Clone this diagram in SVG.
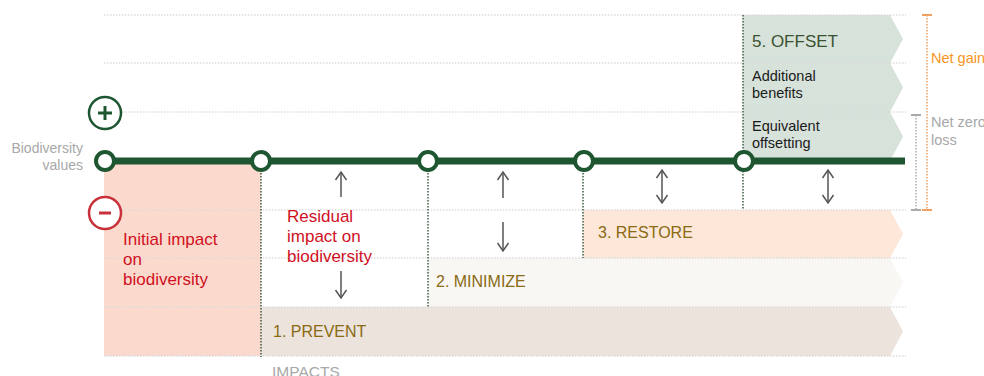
<svg xmlns="http://www.w3.org/2000/svg" width="984" height="376" viewBox="0 0 984 376">
<style>
text{font-family:"Liberation Sans",Arial,sans-serif}
.grid{stroke:#dcdcdc;stroke-width:1.5;stroke-dasharray:1.5 1.5;fill:none}
.vdot{stroke:#3d5e45;stroke-width:1.5;stroke-dasharray:1.5 1.5;fill:none}
.node{fill:#fff;stroke:#1f5632;stroke-width:4}
.arr{stroke:#555;stroke-width:1.5;fill:none;marker-end:url(#ah)}
.arr2{stroke:#555;stroke-width:1.5;fill:none;marker-end:url(#ah);marker-start:url(#ah)}
.red{fill:#d0101e;font-size:17px}
.step{fill:#8a6a12;font-size:16px}
.small{fill:#1a1a1a;font-size:14.5px}
.gray{fill:#a8a8a8}
</style>
<defs>
<marker id="ah" viewBox="-10 -7 12 14" markerWidth="12" markerHeight="14" refX="0" refY="0" orient="auto-start-reverse" markerUnits="userSpaceOnUse">
<path d="M-8,-5.5 L0,0 L-8,5.5" fill="none" stroke="#555" stroke-width="1.5"/>
</marker>
</defs>

<g id="bands">
<path id="prevent-band" d="M261,307 L890,307 L903,331.5 L890,356 L261,356 Z" fill="#ece3dd"/>
<path id="minimize-band" d="M428,258 L890,258 L903,282.5 L890,307 L428,307 Z" fill="#f8f7f4"/>
<path id="restore-band" d="M583,210 L890,210 L903,234 L890,258 L583,258 Z" fill="#fde7d8"/>
<path d="M743,15 L890,15 L903,39 L890,63 L743,63 Z" fill="#d7e2db"/>
<path d="M743,63 L890,63 L903,87.5 L890,112 L743,112 Z" fill="#d7e2db"/>
<path d="M743,112 L890,112 L903,136.5 L890,161 L743,161 Z" fill="#d7e2db"/>
<rect id="initial-impact" x="104" y="161" width="157" height="195" fill="#fcd9cd"/>
</g>

<g id="gridlines">
<line class="grid" x1="104" y1="15" x2="906" y2="15"/>
<line class="grid" x1="104" y1="63" x2="906" y2="63"/>
<line class="grid" x1="122" y1="112" x2="906" y2="112"/>
<line class="grid" x1="122" y1="210" x2="906" y2="210"/>
<line class="grid" x1="104" y1="258" x2="906" y2="258"/>
<line class="grid" x1="104" y1="307" x2="906" y2="307"/>
<line class="grid" x1="104" y1="356" x2="906" y2="356"/>
</g>

<g id="connectors">
<line class="vdot" x1="261" y1="161" x2="261" y2="357"/>
<line class="vdot" x1="428" y1="161" x2="428" y2="307"/>
<line class="vdot" x1="583" y1="161" x2="583" y2="258"/>
<line class="vdot" x1="743" y1="15" x2="743" y2="210"/>
<line x1="104" y1="161" x2="905" y2="161" stroke="#1f5632" stroke-width="7"/>
<line class="arr" x1="341" y1="197" x2="341" y2="172"/>
<line class="arr" x1="341" y1="271" x2="341" y2="298"/>
<line class="arr" x1="503" y1="198" x2="503" y2="172"/>
<line class="arr" x1="503" y1="222" x2="503" y2="251"/>
<line class="arr2" x1="662" y1="170" x2="662" y2="203"/>
<line class="arr2" x1="828" y1="170" x2="828" y2="203"/>
</g>

<g id="nodes">
<circle class="node" cx="105" cy="161" r="9"/>
<circle class="node" cx="261" cy="161" r="9"/>
<circle class="node" cx="428" cy="161" r="9"/>
<circle class="node" cx="584" cy="161" r="9"/>
<circle class="node" cx="744" cy="161" r="9"/>
</g>

<g id="plus">
<circle cx="105" cy="113" r="16" fill="#fff" stroke="#1f5632" stroke-width="2.5"/>
<path d="M98,113 H112 M105,106 V120" stroke="#1f5632" stroke-width="3"/>
</g>
<g id="minus">
<circle cx="105" cy="213" r="16" fill="#fff" stroke="#c8313a" stroke-width="2.5"/>
<path d="M99,213 H111" stroke="#c8313a" stroke-width="3"/>
</g>

<g id="axis-label">
<text class="gray" x="83" y="153" font-size="14" text-anchor="end">Biodiversity</text>
<text class="gray" x="83" y="170" font-size="14" text-anchor="end">values</text>
<text class="gray" x="272" y="377" font-size="15.5">IMPACTS</text>
</g>

<g id="initial-label">
<text class="red" x="123" y="245">Initial impact</text>
<text class="red" x="123" y="265">on</text>
<text class="red" x="123" y="285">biodiversity</text>
</g>
<g id="residual-label">
<text class="red" x="287" y="222">Residual</text>
<text class="red" x="287" y="242">impact on</text>
<text class="red" x="287" y="262">biodiversity</text>
</g>

<g id="prevent"><text class="step" x="273" y="337">1. PREVENT</text></g>
<g id="minimize"><text class="step" x="436" y="287">2. MINIMIZE</text></g>
<g id="restore"><text class="step" x="598" y="238">3. RESTORE</text></g>
<g id="offset">
<text x="752" y="47" font-size="17" fill="#3b5230">5. OFFSET</text>
<text class="small" x="752" y="81">Additional</text>
<text class="small" x="752" y="98">benefits</text>
<text class="small" x="752" y="131">Equivalent</text>
<text class="small" x="752" y="148">offsetting</text>
</g>

<g id="net-gain">
<line x1="927" y1="15" x2="927" y2="210" stroke="#f0a060" stroke-width="1.5" stroke-dasharray="1.5 1.5"/>
<path d="M922,15 H932 M922,210 H932" stroke="#f0a060" stroke-width="2"/>
<text x="931" y="63" font-size="14.5" fill="#f7941d">Net gain</text>
</g>
<g id="net-zero">
<line x1="916" y1="115" x2="916" y2="210" stroke="#aaa" stroke-width="1.5" stroke-dasharray="1.5 1.5"/>
<path d="M911,115 H921 M911,210 H921" stroke="#aaa" stroke-width="2"/>
<text class="gray" x="931" y="127" font-size="14.5">Net zero</text>
<text class="gray" x="931" y="145" font-size="14.5">loss</text>
</g>
</svg>
